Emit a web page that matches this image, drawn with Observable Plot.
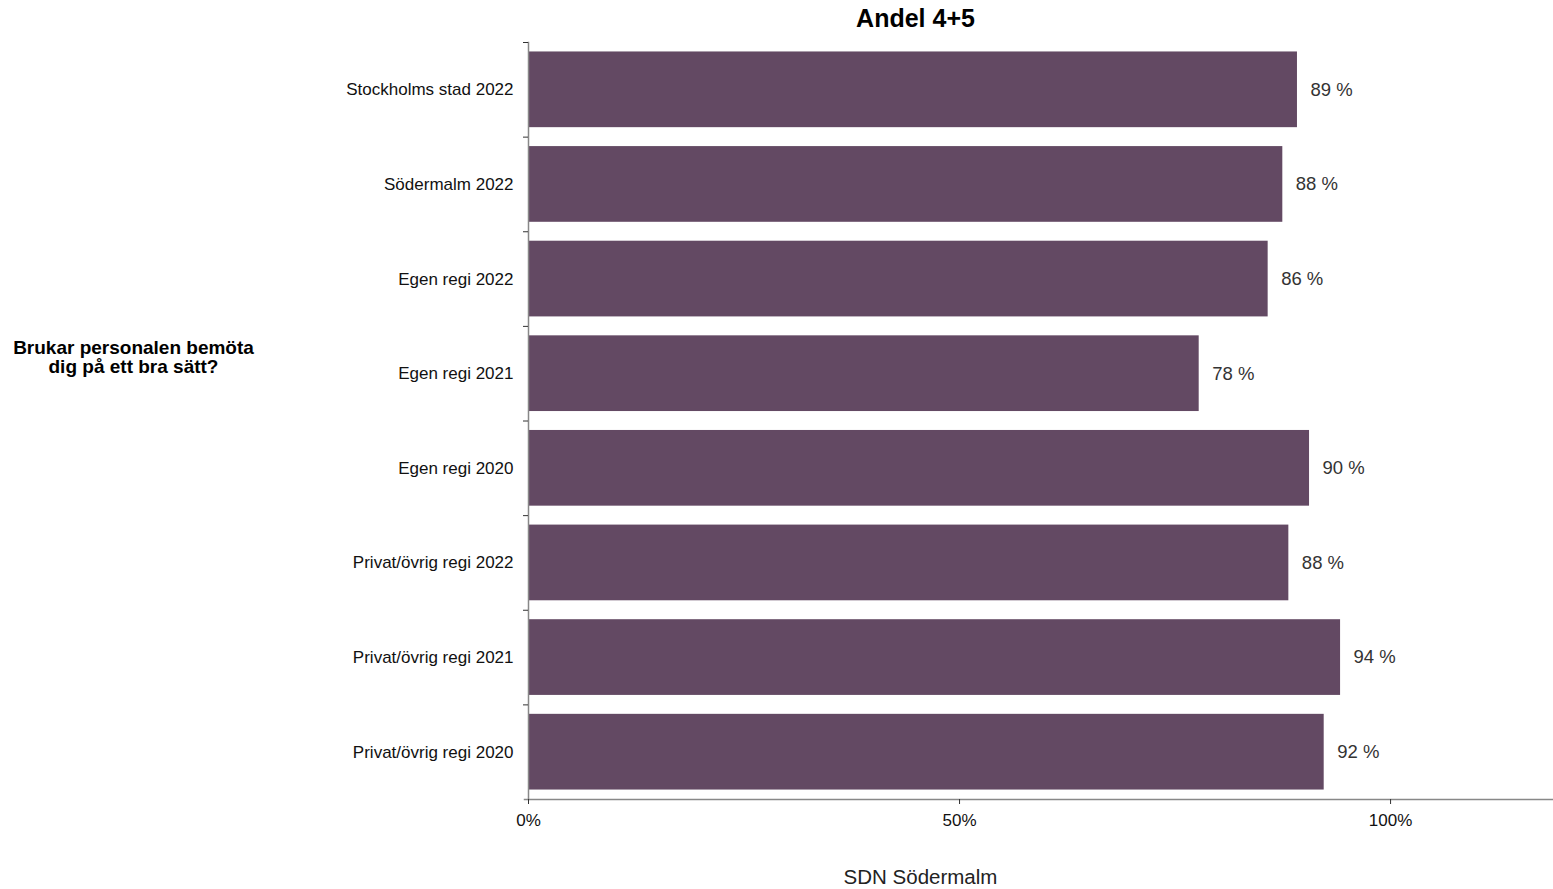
<!DOCTYPE html>
<html>
<head>
<meta charset="utf-8">
<script src="https://cdn.jsdelivr.net/npm/d3@7"></script>
<script src="https://cdn.jsdelivr.net/npm/@observablehq/plot@0.6"></script>
<style>
  body { margin: 0; background: #fff; }
  svg { font-family: "Liberation Sans", Arial, sans-serif; }
</style>
</head>
<body>
<div id="chart"></div>
<script>
const categories = [
  "Stockholms stad 2022",
  "Södermalm 2022",
  "Egen regi 2022",
  "Egen regi 2021",
  "Egen regi 2020",
  "Privat/övrig regi 2022",
  "Privat/övrig regi 2021",
  "Privat/övrig regi 2020"
];
const values = [0.892, 0.875, 0.858, 0.778, 0.906, 0.882, 0.942, 0.923];
const valueLabels = ["89 %", "88 %", "86 %", "78 %", "90 %", "88 %", "94 %", "92 %"];
const xTicks = [0, 0.5, 1];
const xTickLabels = ["0%", "50%", "100%"];
const title = "Andel 4+5";
const xLabel = "SDN Södermalm";
const questionLines = ["Brukar personalen bemöta", "dig på ett bra sätt?"];

const data = categories.map((c, i) => ({category: c, value: values[i], label: valueLabels[i]}));

const W = 1553, H = 889;
const mT = 42, mB = 90, mL = 528, mR = 0;
const step = (H - mT - mB) / categories.length;

const chart = Plot.plot({
  width: W,
  height: H,
  marginTop: mT,
  marginBottom: mB,
  marginLeft: mL,
  marginRight: mR,
  style: {fontFamily: "Liberation Sans, Arial, sans-serif", background: "#fff"},
  x: {domain: [0, 1.189]},
  y: {domain: categories, paddingInner: 0.2, paddingOuter: 0.1, round: false},
  marks: [
    Plot.barX(data, {x: "value", y: "category", fill: "#634963"}),
    Plot.text(data, {
      x: "value", y: "category", text: "label",
      textAnchor: "start", dx: 13, fontSize: 18.5, fill: "#333"
    }),
    // axis lines
    Plot.frame({anchor: "left", stroke: "#888", strokeWidth: 1.5}),
    Plot.frame({anchor: "bottom", stroke: "#888", strokeWidth: 1.5, insetLeft: -4}),
    // y category labels
    Plot.axisY({tickSize: 0, tickPadding: 15, fontSize: 17, fill: "#111", label: null}),
    // y tick marks at band boundaries
    Plot.axisY({tickSize: 5, text: null, label: null, dy: -step / 2, stroke: "#333"}),
    // x axis
    Plot.axisX({
      ticks: xTicks,
      tickFormat: (d) => xTickLabels[xTicks.indexOf(d)],
      tickSize: 5, tickPadding: 9, fontSize: 17, fill: "#111", stroke: "#333", label: null
    }),
    // title
    Plot.text([title], {
      frameAnchor: "top-left", dx: 915 - mL, dy: 18 - mT, lineAnchor: "middle",
      text: d => d, fontSize: 25, fontWeight: "bold", fill: "#000", textAnchor: "middle"
    }),
    // x label
    Plot.text([xLabel], {
      frameAnchor: "bottom-left", dx: 920 - mL, dy: 877 - (H - mB), lineAnchor: "middle",
      text: d => d, fontSize: 20.5, fill: "#222", textAnchor: "middle"
    }),
    // question label
    Plot.text([questionLines.join("\n")], {
      frameAnchor: "top-left", dx: 133 - mL, dy: 357 - mT, lineAnchor: "middle",
      text: d => d, fontSize: 19, fontWeight: "bold", fill: "#000",
      textAnchor: "middle", lineHeight: 1.0
    })
  ]
});
document.getElementById("chart").appendChild(chart);
</script>
</body>
</html>
